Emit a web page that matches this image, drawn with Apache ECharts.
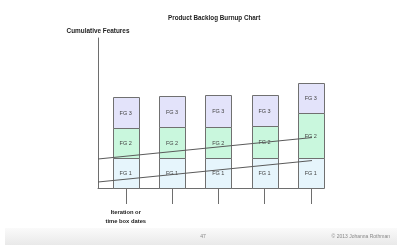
<!DOCTYPE html>
<html>
<head>
<meta charset="utf-8">
<script src="https://cdn.jsdelivr.net/npm/echarts@6/dist/echarts.min.js"></script>
<style>
  html, body { margin: 0; padding: 0; background: #fff; }
  #chart { width: 398px; height: 248px; }
</style>
</head>
<body>
<div id="chart"></div>
<script>
// iterations (one bar each)
const iterations = ["1", "2", "3", "4", "5"];
// where each iteration sits on the burnup x scale
const iterationPos = [1, 2, 3, 4, 5];
// feature group sizes per iteration (stacked)
const fg1 = [3, 3, 3, 3, 3];
const fg2 = [3, 3.1, 3.1, 3.2, 4.5];
const fg3 = [3.1, 3.1, 3.2, 3.1, 3];
const groupNames = ["FG 1", "FG 2", "FG 3"];
// burnup lines: [x, cumulative features]
const upperLine = [[0.4, 2.9], [5.25, 5.15]];
const lowerLine = [[0.4, 0.6], [5.25, 2.85]];
const xLabel = "Iteration or\ntime box dates";

const font = "'Liberation Sans', Arial, sans-serif";
const fills = ["#e6f5fc", "#c9f7dd", "#e3e3fa"];
const BAR_W = 26;

const chart = echarts.init(document.getElementById("chart"), null, { renderer: "canvas" });

// stacked feature-group bar, one segment per group, outlined
function renderStack(params, api) {
  const cat = api.value(0);
  const sizes = [api.value(1), api.value(2), api.value(3)];
  const cx = api.coord([cat, 0])[0];
  const x = Math.round(cx - BAR_W / 2) + 0.5;
  const children = [];
  let cum = 0;
  sizes.forEach((size, i) => {
    const y0 = Math.round(api.coord([cat, cum])[1]) + 0.5;
    cum += size;
    const y1 = Math.round(api.coord([cat, cum])[1]) + 0.5;
    children.push({
      type: "rect",
      shape: { x: x, y: y1, width: BAR_W, height: y0 - y1 },
      style: { fill: fills[i], stroke: "#707070", lineWidth: 1 },
    });
    children.push({
      type: "text",
      x: cx,
      y: (y0 + y1) / 2,
      style: {
        text: groupNames[i],
        fontFamily: font,
        fontSize: 5.5,
        fill: "#444",
        align: "center",
        verticalAlign: "middle",
      },
    });
  });
  return { type: "group", children: children };
}

function lineSeries(points) {
  return {
    type: "line",
    xAxisIndex: 0,
    yAxisIndex: 0,
    data: points,
    symbol: "none",
    clip: false,
    z: 5,
    lineStyle: { color: "#5a5a5a", width: 1 },
  };
}

chart.setOption({
  backgroundColor: "#fff",
  animation: false,
  title: {
    text: "Product Backlog Burnup Chart",
    left: 163,
    top: 10,
    textStyle: {
      fontFamily: font,
      fontWeight: "bold",
      fontSize: 6.3,
      color: "#222",
    },
  },
  grid: [
    { left: 98, right: 87, top: 38, bottom: 60 },
    { left: 102.6, right: 64.1, top: 38, bottom: 60 },
  ],
  xAxis: [
    {
      type: "value",
      gridIndex: 0,
      min: 0.4,
      max: 5,
      splitLine: { show: false },
      axisLine: { lineStyle: { color: "#6e6e6e", width: 1 } },
      axisTick: {
        show: true,
        customValues: iterationPos,
        length: 16,
        lineStyle: { color: "#6e6e6e", width: 1 },
      },
      axisLabel: {
        show: true,
        customValues: [iterationPos[0]],
        formatter: () => xLabel,
        margin: 20,
        fontFamily: font,
        fontWeight: "bold",
        fontSize: 5.8,
        lineHeight: 9,
        color: "#222",
      },
    },
    {
      type: "category",
      gridIndex: 1,
      data: iterations,
      show: false,
    },
  ],
  yAxis: [
    {
      type: "value",
      gridIndex: 0,
      min: 0,
      max: 15,
      name: "Cumulative Features",
      nameLocation: "end",
      nameGap: 4,
      nameTextStyle: {
        fontFamily: font,
        fontWeight: "bold",
        fontSize: 6.4,
        color: "#222",
        align: "center",
      },
      splitLine: { show: false },
      axisTick: { show: false },
      axisLabel: { show: false },
      axisLine: { show: true, lineStyle: { color: "#6e6e6e", width: 1 } },
    },
    {
      type: "value",
      gridIndex: 1,
      min: 0,
      max: 15,
      show: false,
      splitLine: { show: false },
    },
  ],
  graphic: [
    {
      type: "rect",
      shape: { x: 5, y: 228, width: 392, height: 17 },
      style: {
        fill: {
          type: "linear", x: 0, y: 0, x2: 0, y2: 1,
          colorStops: [
            { offset: 0, color: "#fafafa" },
            { offset: 1, color: "#e9e9e9" },
          ],
        },
      },
      z: -1,
    },
    {
      type: "text",
      x: 203,
      y: 237,
      style: {
        text: "47",
        fontFamily: font,
        fontSize: 5,
        fill: "#888",
        align: "center",
        verticalAlign: "middle",
      },
    },
    {
      type: "text",
      x: 390,
      y: 237,
      style: {
        text: "© 2013 Johanna Rothman",
        fontFamily: font,
        fontSize: 5,
        fill: "#888",
        align: "right",
        verticalAlign: "middle",
      },
    },
  ],
  series: [
    {
      type: "custom",
      xAxisIndex: 1,
      yAxisIndex: 1,
      z: 2,
      renderItem: renderStack,
      data: iterations.map((c, i) => [i, fg1[i], fg2[i], fg3[i]]),
    },
    lineSeries(upperLine),
    lineSeries(lowerLine),
  ],
});
</script>
</body>
</html>
